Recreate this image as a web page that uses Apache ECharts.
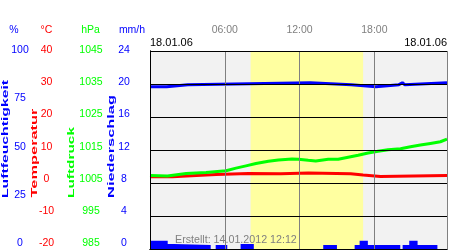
<!DOCTYPE html>
<html><head><meta charset="utf-8">
<script src="https://cdn.jsdelivr.net/npm/echarts@6/dist/echarts.min.js"></script>
<style>html,body{margin:0;padding:0;background:#fff}#c{width:450px;height:250px}</style>
</head><body><div id="c"></div>
<script>
const FONT = '"Liberation Sans", Arial, sans-serif';
// time ticks (hours) shown on top axis
const timeTicks = [6, 12, 18];
const dateLabel = '18.01.06';
const createdLabel = 'Erstellt: 14.01.2012 12:12';
const X_MAX = 23.83;
// daylight band (hours)
const daylight = [8.07, 17.1];
// humidity (%) step readings
const humT = [0, 1.34, 3.03, 12.87, 16.14, 18.13, 19.97, 20.25, 20.43, 23.83];
const humV = [82, 83, 84, 83, 82, 83, 84, 83, 84, 84];
// temperature (°C) step readings
const tempT = [0, 1.8, 4.5, 5.3, 7.9, 10.5, 12.7, 16.1, 17.1, 18.5, 23.83];
const tempV = [1.9, 2.4, 2.6, 2.9, 2.8, 3.0, 2.8, 2.4, 2.0, 2.3, 2.3];
// pressure (hPa)
const presT = [0, 1.4, 2.9, 4.5, 6.1, 6.9, 7.7, 8.5, 9.5, 10.3, 11.4, 11.9, 12.7, 13.3, 14.3, 15.1, 15.9, 16.7, 17.5, 18.3, 19.1, 20.1, 20.9, 21.7, 22.5, 23.3, 23.83];
const presV = [1007.3, 1007.1, 1007.9, 1008.2, 1008.7, 1009.5, 1010.2, 1010.9, 1011.6, 1012.0, 1012.3, 1012.2, 1011.9, 1011.7, 1012.2, 1012.2, 1012.8, 1013.4, 1014.1, 1014.6, 1015.1, 1015.4, 1016.0, 1016.5, 1017.0, 1017.5, 1018.3];
// precipitation (mm/h) step readings
const rainT = [0, 1.42, 1.95, 4.87, 5.27, 6.2, 7.27, 8.33, 13.9, 15.0, 16.42, 16.82, 17.48, 20.08, 20.27, 20.8, 21.47, 23.06, 23.83];
const rainV = [1.0, 0.6, 0.5, 0, 0.5, 0, 0.6, 0, 0.5, 0, 0.5, 1.0, 0.5, 0, 0.5, 1.0, 0.5, 0, 0];

const zip = (a, b) => a.map((v, i) => [v, b[i]]);
const lbl = (color, margin, extra) => Object.assign({align: 'center', margin: margin, color: color, fontSize: 10.5, fontFamily: FONT}, extra || {});
const noAxis = {axisLine: {show: false}, axisTick: {show: false}, splitLine: {show: false}};
const txt = (text, x, y, color, font, align, extra) => Object.assign({
  type: 'text', x: x, y: y, z: 10, silent: true,
  style: {text: text, fill: color, font: font, align: align, verticalAlign: 'middle', textAlign: align, textVerticalAlign: 'middle'}
}, extra || {});

const chart = echarts.init(document.getElementById('c'), null, {renderer: 'canvas'});
chart.setOption({
  animation: false,
  grid: [
    {left: 150, right: 1, top: 51, bottom: 1, show: true, backgroundColor: '#f2f2f2', borderWidth: 0},
    {left: 150, right: 1, top: 50, bottom: 6.7}
  ],
  xAxis: [
    {gridIndex: 0, type: 'value', min: 0, max: X_MAX, interval: 6, position: 'top', z: 3,
     axisLine: {show: true, lineStyle: {color: '#000', width: 1}}, axisTick: {show: false},
     axisLabel: {margin: 15, color: '#808080', fontSize: 10.5, fontFamily: FONT,
       formatter: v => timeTicks.includes(v) ? String(v).padStart(2, '0') + ':00' : ''},
     splitLine: {show: true, lineStyle: {color: '#808080', width: 1}}},
    {gridIndex: 0, type: 'value', min: 0, max: X_MAX, position: 'bottom', z: 4,
     axisLine: {show: true, lineStyle: {color: '#000', width: 1}}, axisTick: {show: false},
     axisLabel: {show: false}, splitLine: {show: false}},
    {gridIndex: 1, type: 'value', min: 0, max: X_MAX, show: false}
  ],
  yAxis: [
    {gridIndex: 0, type: 'value', min: 0, max: 24, interval: 4, position: 'left', z: 4,
     axisLine: {show: true, lineStyle: {color: '#000', width: 1}}, axisTick: {show: false},
     axisLabel: {show: false}, splitLine: {show: true, lineStyle: {color: '#000', width: 1}}},
    {gridIndex: 0, type: 'value', min: 0, max: 100, position: 'right', z: 4,
     axisLine: {show: true, lineStyle: {color: '#000', width: 1}}, axisTick: {show: false},
     axisLabel: {show: false}, splitLine: {show: false}},
    {gridIndex: 0, type: 'value', min: -20, max: 40, show: false},
    {gridIndex: 0, type: 'value', min: 985, max: 1045, show: false},
    Object.assign({gridIndex: 1, type: 'value', min: 0, max: 100, interval: 25, position: 'left', axisLabel: lbl('#0000ff', 130)}, noAxis),
    Object.assign({gridIndex: 1, type: 'value', min: -20, max: 40, interval: 10, position: 'left', axisLabel: lbl('#ff0000', 103.5)}, noAxis),
    Object.assign({gridIndex: 1, type: 'value', min: 985, max: 1045, interval: 5, position: 'left',
      axisLabel: lbl('#00ff00', 59, {formatter: v => ((v - 985) % 10 === 0 ? String(v) : '')})}, noAxis),
    Object.assign({gridIndex: 1, type: 'value', min: 0, max: 24, interval: 4, position: 'left', axisLabel: lbl('#0000ff', 26)}, noAxis)
  ],
  series: [
    {type: 'line', xAxisIndex: 0, yAxisIndex: 0, data: [], z: 1, silent: true,
     markArea: {silent: true, itemStyle: {color: '#ffffa0'},
       data: [[{xAxis: daylight[0]}, {xAxis: daylight[1]}]]}},
    {type: 'line', name: 'Niederschlag', xAxisIndex: 0, yAxisIndex: 0, step: 'end', showSymbol: false, z: 2,
     lineStyle: {width: 0}, itemStyle: {color: '#0000ff'}, areaStyle: {color: '#0000ff', opacity: 1},
     data: zip(rainT, rainV)},
    {type: 'line', name: 'Temperatur', xAxisIndex: 0, yAxisIndex: 2, step: 'end', showSymbol: false, z: 2,
     lineStyle: {width: 3, color: '#ff0000'}, itemStyle: {color: '#ff0000'}, data: zip(tempT, tempV)},
    {type: 'line', name: 'Luftdruck', xAxisIndex: 0, yAxisIndex: 3, showSymbol: false, z: 2,
     lineStyle: {width: 3, color: '#00ff00'}, itemStyle: {color: '#00ff00'}, data: zip(presT, presV)},
    {type: 'line', name: 'Luftfeuchtigkeit', xAxisIndex: 0, yAxisIndex: 1, step: 'end', showSymbol: false, z: 2,
     lineStyle: {width: 3, color: '#0000ff'}, itemStyle: {color: '#0000ff'}, data: zip(humT, humV)}
  ],
  graphic: [
    txt('%', 14, 30, '#0000ff', '10.5px ' + FONT, 'center'),
    txt('°C', 46.5, 30, '#ff0000', '10.5px ' + FONT, 'center'),
    txt('hPa', 90.5, 30, '#00ff00', '10.5px ' + FONT, 'center'),
    txt('mm/h', 132, 30, '#0000ff', '10.5px ' + FONT, 'center'),
    txt(dateLabel, 150, 43, '#000', '11px ' + FONT, 'left'),
    txt(dateLabel, 447, 43, '#000', '11px ' + FONT, 'right'),
    txt(createdLabel, 175, 240, '#808080', '10.7px ' + FONT, 'left'),
    txt('Luftfeuchtigkeit', 5.5, 139, '#0000ff', 'bold 9px ' + FONT, 'center', {rotation: Math.PI / 2, scaleX: 1.75}),
    txt('Temperatur', 35, 153, '#ff0000', 'bold 9px ' + FONT, 'center', {rotation: Math.PI / 2, scaleX: 1.82}),
    txt('Luftdruck', 71.7, 162.5, '#00ff00', 'bold 9px ' + FONT, 'center', {rotation: Math.PI / 2, scaleX: 1.71}),
    txt('Niederschlag', 111.7, 146.5, '#0000ff', 'bold 9px ' + FONT, 'center', {rotation: Math.PI / 2, scaleX: 1.82})
  ]
});
</script></body></html>
